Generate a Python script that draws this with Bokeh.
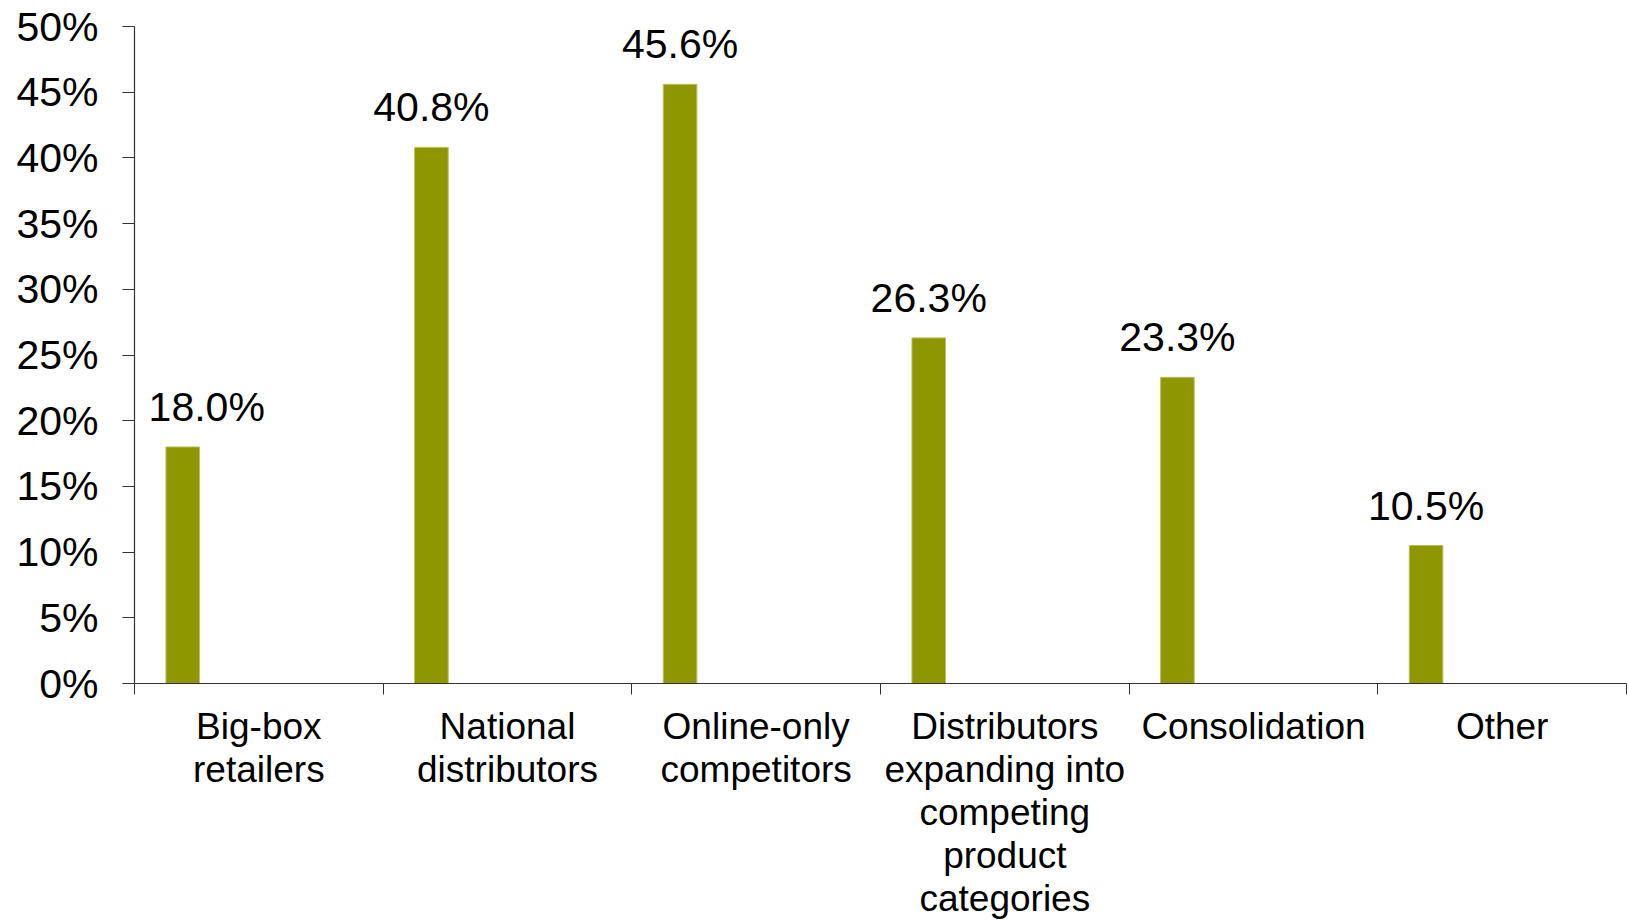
from bokeh.plotting import figure
from bokeh.models import ColumnDataSource, FixedTicker, PrintfTickFormatter, Range1d
from bokeh.core.properties import value
from bokeh.embed import file_html
from bokeh.resources import INLINE

# ---- data ----
categories = [
    "Big-box retailers",
    "National distributors",
    "Online-only competitors",
    "Distributors expanding into competing product categories",
    "Consolidation",
    "Other",
]
category_labels = [
    "Big-box\nretailers",
    "National\ndistributors",
    "Online-only\ncompetitors",
    "Distributors\nexpanding into\ncompeting\nproduct\ncategories",
    "Consolidation",
    "Other",
]
values = [18.0, 40.8, 45.6, 26.3, 23.3, 10.5]
value_labels = ["18.0%", "40.8%", "45.6%", "26.3%", "23.3%", "10.5%"]
y_ticks = [0, 5, 10, 15, 20, 25, 30, 35, 40, 45, 50]

# ---- style / layout constants ----
FONT = "Liberation Sans"
BAR_COLOR = "#8E9600"
BAR_OFFSET = 0.194      # bar centre within its category slot
BAR_WIDTH = 0.135
LABEL_DX = [24, 0, 0, 0, 0, 0]   # pixel nudges of value labels

n = len(categories)
idx = list(range(n))
source = ColumnDataSource(dict(
    x=[i + BAR_OFFSET for i in idx],
    value=values,
    label=value_labels,
    dx=LABEL_DX,
))

p = figure(
    width=1629, height=921,
    x_range=Range1d(0, n), y_range=Range1d(y_ticks[0], y_ticks[-1]),
    output_backend="svg", toolbar_location=None,
    min_border_left=134, min_border_right=3, min_border_top=26, min_border_bottom=235,
)
p.outline_line_color = None
p.xgrid.grid_line_color = None
p.ygrid.grid_line_color = None
p.background_fill_color = "white"
p.border_fill_color = "white"

p.vbar(x="x", top="value", width=BAR_WIDTH, bottom=0, source=source,
       fill_color=BAR_COLOR, line_color="#B9BD63", line_width=1)

p.text(x="x", y="value", text="label", source=source, x_offset="dx", y_offset=-40,
       text_font=value(FONT), text_font_size="41px", text_color="black",
       text_align="center", text_baseline="alphabetic")

# x axis: labels at slot centres, boundary ticks as minor ticks
xa = p.xaxis[0]
xa.ticker = FixedTicker(ticks=[i + 0.5 for i in idx], minor_ticks=list(range(n + 1)))
xa.major_label_overrides = {i + 0.5: lab for i, lab in zip(idx, category_labels)}
xa.major_tick_line_color = None
xa.major_tick_out = 0
xa.major_tick_in = 0
xa.minor_tick_out = 11
xa.minor_tick_in = 0
xa.minor_tick_line_color = "#333333"
xa.axis_line_color = "#333333"
xa.axis_line_width = 1.2
xa.major_label_standoff = 11
xa.major_label_text_font = FONT
xa.major_label_text_font_size = "37px"
xa.major_label_text_line_height = 1.05
xa.major_label_text_color = "black"
xa.major_label_text_align = "center"

ya = p.yaxis[0]
ya.ticker = FixedTicker(ticks=y_ticks, minor_ticks=[])
ya.formatter = PrintfTickFormatter(format="%d%%")
ya.major_tick_out = 12
ya.major_tick_in = 0
ya.minor_tick_line_color = None
ya.major_tick_line_color = "#333333"
ya.axis_line_color = "#333333"
ya.axis_line_width = 1.2
ya.major_label_standoff = 24
ya.major_label_text_font = FONT
ya.major_label_text_font_size = "41px"
ya.major_label_text_color = "black"

open("out.html", "w").write(file_html(p, INLINE))
